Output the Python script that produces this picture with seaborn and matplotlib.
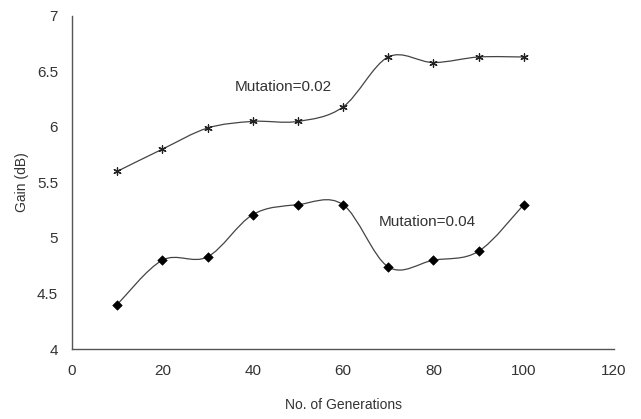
import matplotlib
matplotlib.use("Agg")
import matplotlib.pyplot as plt
import seaborn as sns
import pandas as pd
import numpy as np
from matplotlib.path import Path
from matplotlib.patches import PathPatch

# Data
generations = [10, 20, 30, 40, 50, 60, 70, 80, 90, 100]
gain_mut_002 = [5.60, 5.80, 5.99, 6.05, 6.05, 6.18, 6.63, 6.58, 6.63, 6.63]
gain_mut_004 = [4.40, 4.80, 4.83, 5.21, 5.30, 5.30, 4.74, 4.80, 4.88, 5.30]
x_ticks = [0, 20, 40, 60, 80, 100, 120]
y_ticks = [4, 4.5, 5, 5.5, 6, 6.5, 7]


def smooth_path(xs, ys):
    """Excel-style smoothed line: cubic Bezier through every data point."""
    pts = np.column_stack([xs, ys]).astype(float)
    n = len(pts)
    verts = [pts[0]]
    codes = [Path.MOVETO]
    for i in range(n - 1):
        p_prev = pts[max(i - 1, 0)]
        p0, p1 = pts[i], pts[i + 1]
        p_next = pts[min(i + 2, n - 1)]
        c1 = p0 + (p1 - p_prev) / 6.0
        c2 = p1 - (p_next - p0) / 6.0
        verts += [c1, c2, p1]
        codes += [Path.CURVE4] * 3
    return Path(verts, codes)


df = pd.DataFrame({
    "generations": generations * 2,
    "gain": gain_mut_002 + gain_mut_004,
    "series": ["0.02"] * len(generations) + ["0.04"] * len(generations),
})

sns.set_style("white")
plt.rcParams["font.family"] = ["Liberation Sans", "DejaVu Sans"]

fig = plt.figure(figsize=(6.41, 4.19), dpi=100)
ax = fig.add_axes([0.1123, 0.167, 0.8457, 0.795])

line_color = "#444444"
for xs, ys in [(generations, gain_mut_002), (generations, gain_mut_004)]:
    ax.add_patch(PathPatch(smooth_path(xs, ys), facecolor="none",
                           edgecolor=line_color, lw=0.9, zorder=2))

sns.scatterplot(data=df[df.series == "0.02"], x="generations", y="gain",
                marker=(6, 2, 0), s=28, color="#222222", linewidth=0.9,
                ax=ax, legend=False, zorder=3)
sns.scatterplot(data=df[df.series == "0.04"], x="generations", y="gain",
                marker="D", s=24, color="black", edgecolor="black",
                ax=ax, legend=False, zorder=3)

ax.text(36, 6.36, "Mutation=0.02", fontsize=11, color="#333333", va="center")
ax.text(68, 5.14, "Mutation=0.04", fontsize=11, color="#333333", va="center")

ax.set_xlim(0, 120)
ax.set_ylim(4, 7)
ax.set_xticks(x_ticks)
ax.set_yticks(y_ticks)
ax.set_yticklabels(["4", "4.5", "5", "5.5", "6", "6.5", "7"])
ax.set_xlabel("No. of Generations", fontsize=10, color="#333333", labelpad=14)
ax.set_ylabel("Gain (dB)", fontsize=10, color="#333333", labelpad=6)

for side in ["top", "right"]:
    ax.spines[side].set_visible(False)
for side in ["left", "bottom"]:
    ax.spines[side].set_color("#555555")
    ax.spines[side].set_linewidth(1.0)
ax.tick_params(axis="both", direction="out", length=4, width=1,
               color="#555555", labelsize=11, labelcolor="#333333", pad=6)
ax.tick_params(axis="x", direction="inout", length=6, pad=8)
ax.grid(False)

fig.savefig("out.png", dpi=100)
